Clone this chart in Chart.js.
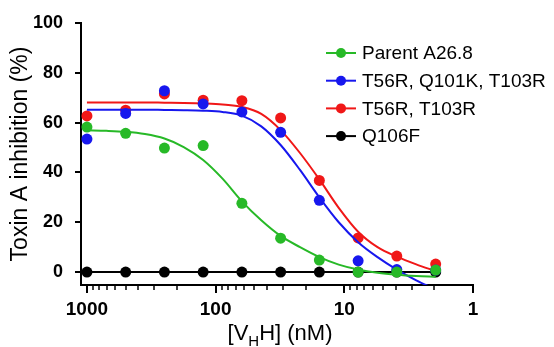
<!DOCTYPE html>
<html><head><meta charset="utf-8">
<script src="https://cdn.jsdelivr.net/npm/chart.js@4/dist/chart.umd.min.js"></script>
<style>html,body{margin:0;padding:0;background:#fff;}canvas{display:block;}</style>
</head><body>
<canvas id="c" width="554" height="347"></canvas>
<script>
// ---- data ----
const seriesLabels = ['Parent A26.8', 'T56R, Q101K, T103R', 'T56R, T103R', 'Q106F'];
const seriesColors = ['#27b927', '#1717ee', '#f01717', '#000000'];

const concentrations = [1000, 500, 250, 125, 62.5, 31.25, 15.63, 7.81, 3.91, 1.95];
const parentA268 = [58.2, 55.7, 49.8, 50.8, 27.6, 13.6, 4.8, 0.0, 0.0, 0.8];
const t56rQ101kT103r = [53.4, 63.7, 72.8, 67.5, 64.3, 56.1, 28.8, 4.5, 1.0, 0.8];
const t56rT103r = [62.7, 65.0, 71.5, 69.0, 68.8, 61.9, 36.8, 13.7, 6.4, 3.2];
const q106f = [0, 0, 0, 0, 0, 0, 0, 0, 0, 0];

const curveConcentrations = [1000, 707, 500, 354, 250, 177, 125, 88.4, 62.5, 44.2, 31.25, 22.1, 15.63, 11.05, 7.81, 5.52, 3.91, 2.76, 1.95];
const parentCurve = [56.9, 56.7, 56.3, 55.4, 53.6, 50.2, 45.0, 37.5, 28.4, 20.8, 14.5, 10.0, 6.0, 3.0, 1.0, -0.3, -1.1, -1.6, -1.9];
const t56rQ101kT103rCurve = [65.2, 65.2, 65.2, 65.2, 65.1, 65.0, 64.8, 64.3, 62.8, 58.5, 51.0, 41.0, 30.0, 20.0, 12.0, 6.0, 1.0, -3.3, -7.0];
const t56rT103rCurve = [68.1, 68.1, 68.1, 68.1, 68.0, 67.9, 67.7, 67.3, 66.3, 63.5, 57.0, 47.8, 37.2, 25.8, 16.2, 10.0, 6.2, 3.1, 0.4];
const q106fCurve = [0, 0, 0, 0, 0, 0, 0, 0, 0, 0, 0, 0, 0, 0, 0, 0, 0, 0, 0];

const yTickValues = [0, 20, 40, 60, 80, 100];
const xMajorTicks = [1000, 100, 10, 1];
const xMinorMultipliers = [2, 3, 4, 5, 6, 7, 8, 9];
const yAxisTitle = 'Toxin A inhibition (%)';
const xAxisTitleParts = ['[V', 'H', 'H] (nM)'];

// ---- build ----
const pts = (xs, ys) => xs.map((x, i) => ({x: x, y: ys[i]}));
const pointSets = [parentA268, t56rQ101kT103r, t56rT103r, q106f];
const curveSets = [parentCurve, t56rQ101kT103rCurve, t56rT103rCurve, q106fCurve];
const drawOrder = [1, 3, 4, 5]; // lower = on top

const datasets = [];
for (let s = 0; s < 4; s++) {
  datasets.push({
    label: seriesLabels[s] + ' fit',
    data: pts(curveConcentrations, curveSets[s]),
    showLine: true,
    borderColor: seriesColors[s],
    borderWidth: 2,
    pointRadius: 0,
    cubicInterpolationMode: 'monotone',
    order: drawOrder[s] + 0.5
  });
  datasets.push({
    label: seriesLabels[s],
    data: pts(concentrations, pointSets[s]),
    showLine: false,
    backgroundColor: seriesColors[s],
    borderColor: seriesColors[s],
    borderWidth: 0,
    pointRadius: 5.5,
    order: drawOrder[s]
  });
}

const xTickValues = [];
for (let d = 0; d < xMajorTicks.length; d++) {
  xTickValues.push(xMajorTicks[d]);
  if (xMajorTicks[d] < 1000) {
    xMinorMultipliers.forEach(m => xTickValues.push(xMajorTicks[d] * m));
  }
}

const FONT = "'Liberation Sans', Arial, sans-serif";

const decor = {
  id: 'decor',
  afterDraw(chart) {
    const ctx = chart.ctx;
    const xs = chart.scales.x;
    const area = chart.chartArea;
    ctx.save();
    // x tick marks
    ctx.strokeStyle = '#000';
    xTickValues.forEach(v => {
      const px = Math.round(xs.getPixelForValue(v));
      const major = xMajorTicks.includes(v);
      ctx.lineWidth = major ? 2 : 1.5;
      ctx.beginPath();
      ctx.moveTo(px, area.bottom);
      ctx.lineTo(px, area.bottom + (major ? 8 : 5));
      ctx.stroke();
    });
    // x title with subscript
    const big = '22px ' + FONT, small = '15px ' + FONT;
    ctx.font = big; const w0 = ctx.measureText(xAxisTitleParts[0]).width;
    const w2 = ctx.measureText(xAxisTitleParts[2]).width;
    ctx.font = small; const w1 = ctx.measureText(xAxisTitleParts[1]).width;
    const total = w0 + w1 + w2;
    let x0 = (area.left + area.right) / 2 - total / 2 + 3;
    const base = 340;
    ctx.fillStyle = '#000';
    ctx.textBaseline = 'alphabetic';
    ctx.textAlign = 'left';
    ctx.font = big; ctx.fillText(xAxisTitleParts[0], x0, base);
    ctx.font = small; ctx.fillText(xAxisTitleParts[1], x0 + w0, base + 6);
    ctx.font = big; ctx.fillText(xAxisTitleParts[2], x0 + w0 + w1, base);
    // legend
    ctx.font = '19px ' + FONT;
    ctx.textBaseline = 'middle';
    for (let i = 0; i < seriesLabels.length; i++) {
      const y = 53 + i * 27.7;
      ctx.strokeStyle = seriesColors[i];
      ctx.lineWidth = 2;
      ctx.beginPath(); ctx.moveTo(326, y); ctx.lineTo(356, y); ctx.stroke();
      ctx.fillStyle = seriesColors[i];
      ctx.beginPath(); ctx.arc(341, y, 5, 0, Math.PI * 2); ctx.fill();
      ctx.fillStyle = '#000';
      ctx.fillText(seriesLabels[i], 362, y + 1);
    }
    ctx.restore();
  }
};

new Chart(document.getElementById('c'), {
  type: 'scatter',
  data: {datasets: datasets},
  options: {
    responsive: false,
    animation: false,
    layout: {padding: {left: 0, right: 81, top: 23, bottom: 0}},
    plugins: {legend: {display: false}, tooltip: {enabled: false}},
    scales: {
      x: {
        type: 'logarithmic',
        reverse: true,
        min: 1,
        max: 1112,
        afterBuildTicks: (scale) => { scale.ticks = xTickValues.map(v => ({value: v, major: xMajorTicks.includes(v)})); },
        afterFit: (scale) => { scale.height = 62; },
        grid: {drawOnChartArea: false, drawTicks: false, color: '#000'},
        border: {display: true, color: '#000', width: 2},
        ticks: {
          autoSkip: false, maxRotation: 0, minRotation: 0, padding: 13,
          color: '#000', font: {family: FONT, size: 19, weight: 'bold'},
          callback: (v) => xMajorTicks.includes(v) ? String(v) : ''
        }
      },
      y: {
        type: 'linear',
        min: -5.2,
        max: 100,
        afterBuildTicks: (scale) => { scale.ticks = yTickValues.map(v => ({value: v})); },
        afterFit: (scale) => { scale.width = 81; },
        grid: {drawOnChartArea: false, drawTicks: true, tickLength: 6, color: '#000', lineWidth: 2},
        border: {display: true, color: '#000', width: 2},
        ticks: {padding: 12, color: '#000', font: {family: FONT, size: 18, weight: 'bold'}},
        title: {display: true, text: yAxisTitle, color: '#000', font: {family: FONT, size: 23}, padding: {top: 7, bottom: 0}}
      }
    }
  },
  plugins: [decor]
});
</script>
</body></html>
